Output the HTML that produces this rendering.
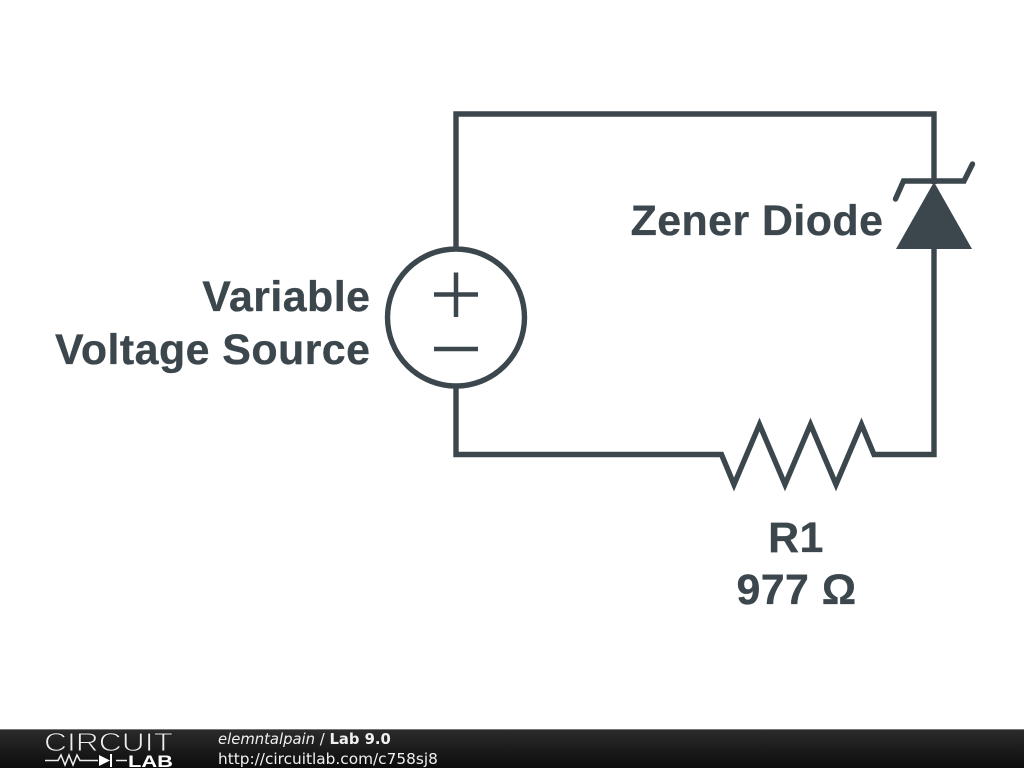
<!DOCTYPE html>
<html><head><meta charset="utf-8"><style>
html,body{margin:0;padding:0;background:#fff}
body{width:1024px;height:768px;overflow:hidden}
svg{display:block}
</style></head><body>
<svg width="1024" height="768" viewBox="0 0 1024 768" xmlns="http://www.w3.org/2000/svg">
<defs><linearGradient id="g" x1="0" y1="0" x2="0" y2="1"><stop offset="0" stop-color="#2c2c2c"/><stop offset="1" stop-color="#0c0c0c"/></linearGradient></defs>
<rect width="1024" height="768" fill="#fff"/>
<g fill="none" stroke="#3c474d" stroke-width="5.400" stroke-linejoin="miter" stroke-miterlimit="6">
<path d="M456 249V114H934V184M934 249V454.500H874L861.500 424.500 836 484.500 810.500 424.500 785 484.500 759.500 424.500 734 484.500 721.500 454.500H456V386"/>
<circle cx="456" cy="317.500" r="68.500"/>
<path stroke-linecap="round" d="M895.500 199L903.500 181H964L972.500 164"/>
</g>
<path d="M934 182L972 249H896Z" fill="#3c474d"/>
<g stroke="#3c474d" stroke-width="4.500"><path d="M434 294.500H478M456 272.500V317M434 349H478" fill="none"/></g>
<g font-family="Liberation Sans, sans-serif" font-weight="700" font-size="42.900" letter-spacing="0.450" fill="#3c474d" stroke="#3c474d" stroke-width="0.300">
<text x="370.400" y="311" text-anchor="end">Variable</text>
<text x="370.400" y="364" text-anchor="end">Voltage Source</text>
<text x="883.400" y="235" text-anchor="end">Zener Diode</text>
<text x="796" y="552" text-anchor="middle">R1</text>
<text x="796.500" y="604" text-anchor="middle">977 Ω</text>
</g>
<rect y="729" width="1024" height="39" fill="url(#g)"/>
<rect y="729" width="1024" height="1" fill="#777"/>
<text x="44" y="751" font-family="Liberation Sans, sans-serif" font-size="26" fill="#eee" stroke="#1f1f1f" stroke-width="0.900" textLength="129" lengthAdjust="spacingAndGlyphs" font-weight="400">CIRCUIT</text>
<path d="M45 760.500H58L61 755 65 765 69 755 73 765 77 755 80 760.500H98M116 760.500H127" stroke="#eee" stroke-width="1.500" fill="none"/>
<path d="M99 755L110 760.500 99 766Z" fill="#fff"/><path d="M111 754V767" stroke="#fff" stroke-width="2"/>
<text x="128" y="767" font-family="Liberation Sans, sans-serif" font-size="17" font-weight="700" fill="#fff" textLength="45" lengthAdjust="spacingAndGlyphs">LAB</text>
<g font-family="DejaVu Sans, sans-serif" fill="#f0f0f0">
<text x="218" y="744" font-size="14.800"><tspan font-style="italic">elemntalpain</tspan> / <tspan font-weight="700">Lab 9.0</tspan></text>
<text x="218" y="764" font-size="15.340">http://circuitlab.com/c758sj8</text>
</g>
</svg>
</body></html>
